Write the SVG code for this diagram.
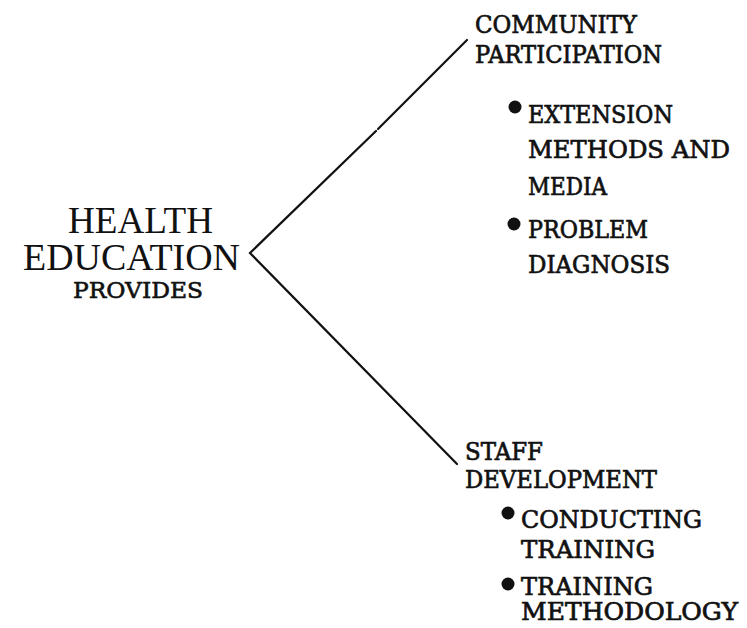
<svg xmlns="http://www.w3.org/2000/svg" width="747" height="628" viewBox="0 0 747 628">
  <style>
    .t { font-family: "DejaVu Serif", "Liberation Serif", serif; fill: #111; }
    .big { font-family: "Liberation Serif", "Times New Roman", serif; font-size: 37px; font-weight: normal; }
    .sub { font-size: 22px; font-weight: normal; stroke: #111; stroke-width: 0.6; }
    .item { font-size: 24.5px; font-weight: normal; stroke: #111; stroke-width: 0.7; }
    .tight { font-size: 23.5px; }
    .conn { stroke: #111; stroke-width: 2.2; fill: none; stroke-linecap: round; }
    .dot { fill: #111; }
  </style>
  <rect width="747" height="628" fill="#ffffff"/>

  <g id="connectors">
    <path class="conn" d="M376,131 L250,253 L457,464"/>
    <path class="conn" d="M378,129 L467,40"/>
  </g>

  <g id="health-education">
    <text class="t big" x="68" y="233" textLength="145" lengthAdjust="spacingAndGlyphs">HEALTH</text>
    <text class="t big" x="23" y="270" textLength="217" lengthAdjust="spacingAndGlyphs">EDUCATION</text>
    <text class="t sub" x="73" y="298" textLength="130" lengthAdjust="spacingAndGlyphs">PROVIDES</text>
  </g>

  <g id="community-participation">
    <text class="t item" x="475" y="33" textLength="162" lengthAdjust="spacingAndGlyphs">COMMUNITY</text>
    <text class="t item" x="475" y="63" textLength="187" lengthAdjust="spacingAndGlyphs">PARTICIPATION</text>
  </g>

  <g id="extension-methods">
    <circle class="dot" cx="515" cy="107" r="6.5"/>
    <text class="t item" x="528" y="123" textLength="145" lengthAdjust="spacingAndGlyphs">EXTENSION</text>
    <text class="t item" x="528" y="158" textLength="202" lengthAdjust="spacingAndGlyphs">METHODS AND</text>
    <text class="t item" x="528" y="195" textLength="79" lengthAdjust="spacingAndGlyphs">MEDIA</text>
  </g>

  <g id="problem-diagnosis">
    <circle class="dot" cx="514" cy="224" r="6.5"/>
    <text class="t item" x="528" y="238" textLength="120" lengthAdjust="spacingAndGlyphs">PROBLEM</text>
    <text class="t item" x="528" y="273" textLength="142" lengthAdjust="spacingAndGlyphs">DIAGNOSIS</text>
  </g>

  <g id="staff-development">
    <text class="t item" x="465" y="460" textLength="78" lengthAdjust="spacingAndGlyphs">STAFF</text>
    <text class="t item" x="465" y="488" textLength="192" lengthAdjust="spacingAndGlyphs">DEVELOPMENT</text>
  </g>

  <g id="conducting-training">
    <circle class="dot" cx="508" cy="513" r="6.5"/>
    <text class="t item" x="521" y="528" textLength="181" lengthAdjust="spacingAndGlyphs">CONDUCTING</text>
    <text class="t item" x="521" y="558" textLength="134" lengthAdjust="spacingAndGlyphs">TRAINING</text>
  </g>

  <g id="training-methodology">
    <circle class="dot" cx="508" cy="584" r="6.5"/>
    <text class="t item tight" x="521" y="595" textLength="132" lengthAdjust="spacingAndGlyphs">TRAINING</text>
    <text class="t item tight" x="521" y="620" textLength="217" lengthAdjust="spacingAndGlyphs">METHODOLOGY</text>
  </g>
</svg>
